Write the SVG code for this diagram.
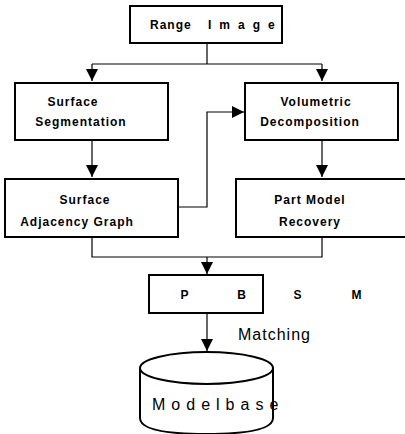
<svg xmlns="http://www.w3.org/2000/svg" width="405" height="434" viewBox="0 0 405 434">
<defs>
<marker id="ah" viewBox="0 0 10 10" refX="10" refY="5" markerWidth="12" markerHeight="12" markerUnits="userSpaceOnUse" orient="auto"><path d="M0,0 L10,5 L0,10 Z" fill="#000"/></marker>
</defs>
<style>
.box{fill:#fff;stroke:#000;stroke-width:2}
.c{fill:none;stroke:#000;stroke-width:1.2}
.t{font-family:"Liberation Sans",Arial,sans-serif;font-weight:bold;font-size:12px;fill:#000;text-anchor:middle;letter-spacing:1px}
.n{font-family:"Liberation Sans",Arial,sans-serif;font-size:16px;fill:#000}
</style>
<rect width="405" height="434" fill="#fff"/>
<g id="connectors">
<path class="c" d="M207,43 V64 M92,64 H322 M92,64 V81" marker-end="url(#ah)"/>
<path class="c" d="M322,64 V81" marker-end="url(#ah)"/>
<path class="c" d="M92,140 V177" marker-end="url(#ah)"/>
<path class="c" d="M322,140 V177" marker-end="url(#ah)"/>
<path class="c" d="M178,207 H207 V112 H244" marker-end="url(#ah)"/>
<path class="c" d="M92,237 V257 H322 V237"/>
<path class="c" d="M207,257 V274" marker-end="url(#ah)"/>
<path class="c" d="M207,313 V351" marker-end="url(#ah)"/>
</g>
<g id="range-image">
<rect class="box" x="130" y="6" width="152" height="37"/>
<text class="t" x="150" y="29" style="text-anchor:start">Range</text>
<text class="t" x="208" y="29" style="text-anchor:start;letter-spacing:8px">Image</text>
</g>
<g id="surface-segmentation">
<rect class="box" x="15" y="83" width="153" height="57"/>
<text class="t" x="73" y="106">Surface</text>
<text class="t" x="81" y="126">Segmentation</text>
</g>
<g id="volumetric-decomposition">
<rect class="box" x="245" y="83" width="153" height="57"/>
<text class="t" x="316" y="106">Volumetric</text>
<text class="t" x="310" y="126">Decomposition</text>
</g>
<g id="surface-adjacency-graph">
<rect class="box" x="5" y="179" width="173" height="58"/>
<text class="t" x="85" y="204">Surface</text>
<text class="t" x="77" y="226">Adjacency Graph</text>
</g>
<g id="part-model-recovery">
<rect class="box" x="236" y="179" width="172" height="58"/>
<text class="t" x="310" y="204">Part Model</text>
<text class="t" x="310" y="226">Recovery</text>
</g>
<g id="pbsm">
<rect class="box" x="149" y="275" width="114" height="38"/>
<text class="t" x="185" y="299">P</text>
<text class="t" x="242" y="299">B</text>
<text class="t" x="298" y="299">S</text>
<text class="t" x="357" y="299">M</text>
</g>
<text class="n" x="238" y="340" style="letter-spacing:1px">Matching</text>
<g id="modelbase">
<path class="box" d="M140,368 V418 Q140,434 206,434 Q273,434 273,418 V368" style="fill:#fff"/>
<ellipse class="box" cx="206.5" cy="368" rx="66.5" ry="16"/>
<text class="n" x="152" y="410" style="letter-spacing:6px">Modelbase</text>
</g>
</svg>
